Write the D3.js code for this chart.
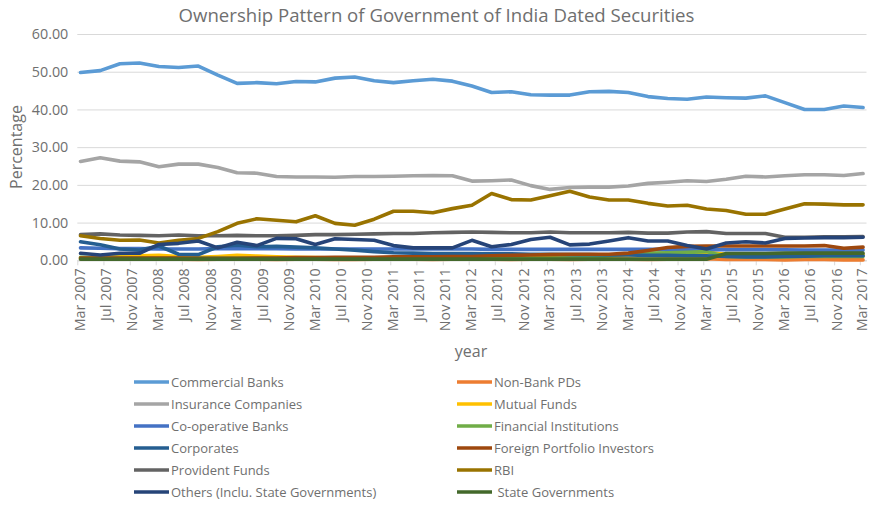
<!DOCTYPE html>
<html>
<head>
<meta charset="utf-8">
<script src="https://cdn.jsdelivr.net/npm/d3@7"></script>
<style>
  body { margin: 0; background: #fff; }
  svg { display: block; font-family: "Open Sans", sans-serif; }
</style>
</head>
<body>
<svg id="chart" width="870" height="505"></svg>
<script>
// Quarter-end observation dates
const quarters = [
  "Mar 2007","Jun 2007","Sep 2007","Dec 2007","Mar 2008","Jun 2008","Sep 2008","Dec 2008",
  "Mar 2009","Jun 2009","Sep 2009","Dec 2009","Mar 2010","Jun 2010","Sep 2010","Dec 2010",
  "Mar 2011","Jun 2011","Sep 2011","Dec 2011","Mar 2012","Jun 2012","Sep 2012","Dec 2012",
  "Mar 2013","Jun 2013","Sep 2013","Dec 2013","Mar 2014","Jun 2014","Sep 2014","Dec 2014",
  "Mar 2015","Jun 2015","Sep 2015","Dec 2015","Mar 2016","Jun 2016","Sep 2016","Dec 2016",
  "Mar 2017"
];

// Date axis labels (every four months)
const tickLabels = [
  "Mar 2007","Jul 2007","Nov 2007","Mar 2008","Jul 2008","Nov 2008","Mar 2009","Jul 2009",
  "Nov 2009","Mar 2010","Jul 2010","Nov 2010","Mar 2011","Jul 2011","Nov 2011","Mar 2012",
  "Jul 2012","Nov 2012","Mar 2013","Jul 2013","Nov 2013","Mar 2014","Jul 2014","Nov 2014",
  "Mar 2015","Jul 2015","Nov 2015","Mar 2016","Jul 2016","Nov 2016","Mar 2017"
];

const yTicks = [0, 10, 20, 30, 40, 50, 60];

// Share of holdings (%) by category
const commercialBanks = [49.8,50.3,52.1,52.3,51.4,51.1,51.5,49.1,46.9,47.1,46.8,47.4,47.3,48.3,48.6,47.6,47.1,47.6,48.0,47.5,46.2,44.5,44.7,43.9,43.8,43.8,44.7,44.8,44.5,43.4,42.9,42.7,43.3,43.1,43.0,43.6,41.8,40.0,40.0,40.9,40.5];
const nonBankPDs = [0.4,0.3,0.3,0.4,0.3,0.3,0.2,0.3,0.3,0.3,0.2,0.3,0.3,0.2,0.2,0.3,0.3,0.3,0.2,0.3,0.3,0.3,0.2,0.3,0.3,0.2,0.3,0.3,0.3,0.2,0.3,0.3,0.4,0.2,0.2,0.2,0.1,0.2,0.2,0.1,0.1];
const insuranceCompanies = [26.2,27.2,26.3,26.1,24.8,25.5,25.5,24.6,23.2,23.1,22.2,22.1,22.1,22.0,22.2,22.2,22.3,22.4,22.5,22.4,21.0,21.1,21.3,19.8,18.8,19.3,19.4,19.4,19.7,20.4,20.7,21.1,20.9,21.5,22.3,22.1,22.4,22.7,22.7,22.5,23.0];
const mutualFunds = [0.6,0.8,1.0,1.2,1.3,1.0,0.8,1.0,1.3,1.1,0.9,0.8,0.7,0.6,0.5,0.5,0.5,0.4,0.5,0.6,0.5,0.6,0.7,0.8,0.9,1.0,1.1,1.2,1.4,1.6,1.8,2.0,2.2,1.6,1.5,1.5,1.4,1.5,1.6,1.5,1.6];
const cooperativeBanks = [3.3,3.2,3.1,3.1,3.0,3.0,3.0,3.1,3.1,3.1,3.1,3.0,3.0,3.0,3.0,3.0,3.0,3.0,3.0,3.0,3.0,2.9,2.9,2.9,2.9,2.9,2.9,2.9,2.9,2.9,2.9,2.8,2.8,2.8,2.8,2.8,2.8,2.7,2.7,2.7,2.7];
const financialInstitutions = [0.8,0.7,0.7,0.6,0.6,0.6,0.6,0.6,0.6,0.6,0.6,0.6,0.6,0.6,0.6,0.6,0.6,0.6,0.6,0.6,0.6,0.6,0.6,0.6,0.6,0.6,0.7,1.2,1.7,1.9,2.0,2.1,2.3,1.0,0.9,0.9,0.9,1.0,1.0,1.0,1.0];
const corporates = [4.9,4.1,3.0,2.7,3.8,1.6,1.5,3.6,4.0,3.6,3.7,3.5,3.3,3.0,2.7,2.3,2.0,1.9,1.8,1.8,1.8,1.7,1.7,1.6,1.6,1.5,1.5,1.4,1.4,1.3,1.3,1.2,1.2,1.0,0.9,0.9,1.0,1.1,1.2,1.2,1.2];
const foreignPortfolioInvestors = [0.6,0.6,0.6,0.6,0.6,0.6,0.5,0.5,0.5,0.6,0.6,0.7,0.7,0.8,0.8,0.8,0.9,0.9,0.9,1.0,1.0,1.2,1.3,1.4,1.5,1.6,1.6,1.6,1.9,2.6,3.4,3.7,3.8,3.8,3.8,3.8,3.8,3.8,3.9,3.2,3.5];
const providentFunds = [6.8,7.0,6.7,6.6,6.5,6.7,6.5,6.5,6.6,6.5,6.5,6.6,6.8,6.8,6.9,7.0,7.1,7.1,7.3,7.4,7.5,7.4,7.3,7.3,7.5,7.3,7.3,7.3,7.4,7.2,7.2,7.5,7.6,7.1,7.1,7.1,6.1,6.1,6.2,6.2,6.3];
const rbi = [6.5,5.8,5.3,5.4,4.6,5.3,5.8,7.6,9.8,11.0,10.6,10.2,11.8,9.8,9.3,10.9,13.0,13.0,12.6,13.7,14.6,17.7,16.1,16.0,17.1,18.3,16.8,16.0,16.0,15.1,14.4,14.6,13.6,13.2,12.2,12.2,13.6,15.0,14.9,14.7,14.7];
const others = [1.85,1.4,1.85,1.85,4.2,4.5,5.1,3.3,4.8,3.9,5.8,5.7,4.2,5.7,5.5,5.3,3.9,3.3,3.3,3.3,5.3,3.6,4.2,5.5,6.1,4.1,4.3,5.1,6.0,5.1,5.1,3.9,3.0,4.6,4.9,4.6,5.8,5.9,6.0,6.0,6.1];
const stateGovernments = [0.3,0.3,0.3,0.3,0.3,0.3,0.3,0.3,0.3,0.3,0.3,0.3,0.3,0.3,0.3,0.3,0.3,0.3,0.3,0.3,0.3,0.3,0.3,0.3,0.3,0.3,0.3,0.3,0.3,0.3,0.3,0.3,0.3,1.8,1.8,1.8,1.9,1.9,1.9,1.9,1.9];

const seriesNames = [
  "Commercial Banks", "Non-Bank PDs", "Insurance Companies", "Mutual Funds",
  "Co-operative Banks", "Financial Institutions", "Corporates", "Foreign Portfolio Investors",
  "Provident Funds", "RBI", "Others (Inclu. State Governments)", " State Governments"
];
const seriesValues = [
  commercialBanks, nonBankPDs, insuranceCompanies, mutualFunds,
  cooperativeBanks, financialInstitutions, corporates, foreignPortfolioInvestors,
  providentFunds, rbi, others, stateGovernments
];
const seriesColors = [
  "#5B9BD5", "#ED7D31", "#A5A5A5", "#FFC000",
  "#4472C4", "#70AD47", "#255E91", "#9E480E",
  "#636363", "#997300", "#264478", "#43682B"
];

const svg = d3.select("#chart");
const plot = { left: 77.3, right: 866.5, top: 34, bottom: 260.3 };
const textColor = "#6f6f6f";
const gridColor = "#d9d9d9";

const parseMonth = d3.timeParse("%b %Y");
const quarterDates = quarters.map(parseMonth);
const tickDates = tickLabels.map(parseMonth);

// Date axis: each month occupies a slot; points sit mid-slot
const x = d3.scaleTime()
  .domain([tickDates[0], d3.timeMonth.offset(tickDates[tickDates.length - 1], 1)])
  .range([plot.left, plot.right]);
const y = d3.scaleLinear().domain([0, 60]).range([plot.bottom, plot.top]);
const xPoint = d => x(d3.timeDay.offset(d, 15));

// Title
svg.append("text")
  .attr("x", 436.5).attr("y", 22)
  .attr("text-anchor", "middle")
  .attr("font-size", 18.6)
  .attr("fill", textColor)
  .text("Ownership Pattern of Government of India Dated Securities");

// Horizontal gridlines and value labels
const yAxis = d3.axisLeft(y)
  .tickValues(yTicks)
  .tickFormat(d3.format(".2f"))
  .tickSize(-(plot.right - plot.left))
  .tickPadding(9);
const gy = svg.append("g")
  .attr("transform", `translate(${plot.left},0)`)
  .call(yAxis);
gy.select(".domain").remove();
gy.selectAll(".tick line").attr("stroke", gridColor).attr("stroke-width", 1);
gy.selectAll(".tick text")
  .attr("font-family", "Open Sans, sans-serif")
  .attr("font-size", 14.3)
  .attr("fill", textColor);

// Date axis with rotated labels
const xAxis = d3.axisBottom(x)
  .tickValues(tickDates)
  .tickFormat(d3.timeFormat("%b %Y"))
  .tickSize(5)
  .tickSizeOuter(0);
const gx = svg.append("g")
  .attr("transform", `translate(0,${plot.bottom})`)
  .call(xAxis);
gx.select(".domain").attr("stroke", gridColor);
gx.selectAll(".tick line").attr("stroke", gridColor);
gx.selectAll(".tick text")
  .attr("font-family", "Open Sans, sans-serif")
  .attr("font-size", 14.3)
  .attr("fill", textColor)
  .attr("transform", "rotate(-90)")
  .attr("text-anchor", "end")
  .attr("x", -8)
  .attr("y", 2)
  .attr("dy", "0.35em");

// Axis titles
svg.append("text")
  .attr("transform", "translate(22,147) rotate(-90)")
  .attr("text-anchor", "middle")
  .attr("font-size", 16)
  .attr("fill", textColor)
  .text("Percentage");
svg.append("text")
  .attr("x", 471).attr("y", 357)
  .attr("text-anchor", "middle")
  .attr("font-size", 16)
  .attr("fill", textColor)
  .text("year");

// Series lines
const series = seriesNames.map((name, i) => ({
  name,
  color: seriesColors[i],
  points: seriesValues[i].map((v, j) => ({ date: quarterDates[j], value: v }))
}));

const line = d3.line()
  .x(d => xPoint(d.date))
  .y(d => y(d.value));

svg.append("g")
  .selectAll("path")
  .data(series)
  .join("path")
  .attr("d", d => line(d.points))
  .attr("fill", "none")
  .attr("stroke", d => d.color)
  .attr("stroke-width", 3.6)
  .attr("stroke-linejoin", "round")
  .attr("stroke-linecap", "round");

// Legend: two columns, filled row by row
const legend = svg.append("g");
const legendCols = [134, 457];
const legendTop = 382, legendStep = 22;
const items = legend.selectAll("g")
  .data(series)
  .join("g")
  .attr("transform", (d, i) => `translate(${legendCols[i % 2]},${legendTop + Math.floor(i / 2) * legendStep})`);
items.append("line")
  .attr("x1", 0).attr("x2", 35)
  .attr("y1", 0).attr("y2", 0)
  .attr("stroke", d => d.color)
  .attr("stroke-width", 3.6);
items.append("text")
  .attr("x", 37)
  .attr("dy", "0.35em")
  .attr("font-size", 13)
  .attr("fill", textColor)
  .style("white-space", "pre")
  .text(d => d.name);
</script>
</body>
</html>
